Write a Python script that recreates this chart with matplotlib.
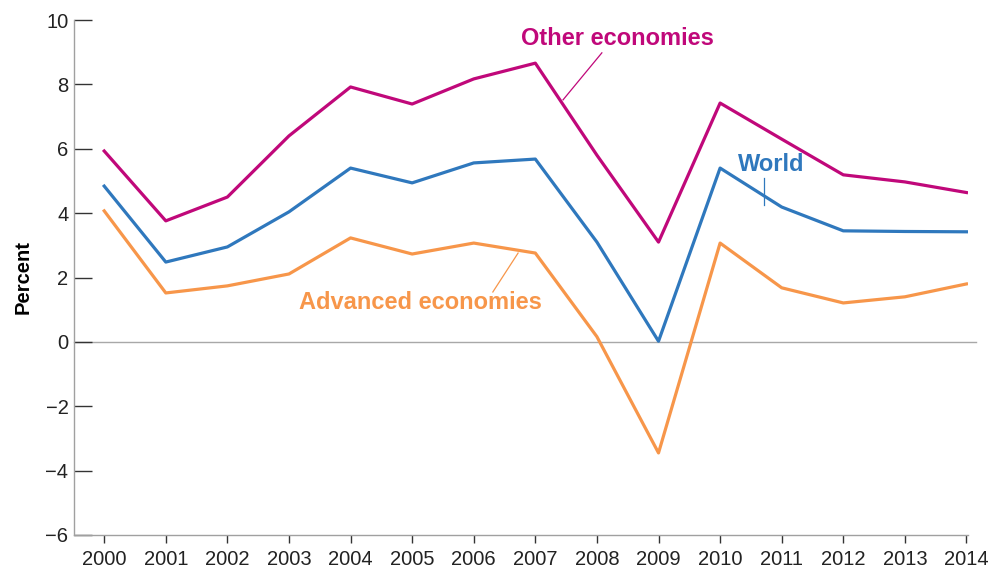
import matplotlib.pyplot as plt

plt.rcParams["font.family"] = ["Liberation Sans", "DejaVu Sans"]

years = list(range(2000, 2015))
other = [5.93, 3.76, 4.50, 6.40, 7.92, 7.39, 8.17, 8.66, 5.80, 3.10, 7.42, 6.30, 5.19, 4.97, 4.64]
world = [4.84, 2.48, 2.95, 4.04, 5.40, 4.94, 5.56, 5.68, 3.10, 0.02, 5.40, 4.19, 3.45, 3.43, 3.42]
advanced = [4.07, 1.52, 1.74, 2.11, 3.23, 2.73, 3.07, 2.76, 0.16, -3.45, 3.07, 1.68, 1.21, 1.40, 1.80]

colors = {"other": "#C0087A", "world": "#2F78BD", "advanced": "#F7964A"}

fig = plt.figure(figsize=(10.03, 5.72), dpi=100)
ax = fig.add_axes([0.0738, 0.0647, 0.891, 0.9003])

ax.plot([1999.51, 2014.15], [0, 0], color="#A8A8A8", linewidth=1.0, zorder=1, clip_on=False)
ax.plot(years, other, color=colors["other"], linewidth=2.3, zorder=3)
ax.plot(years, world, color=colors["world"], linewidth=2.3, zorder=3)
ax.plot(years, advanced, color=colors["advanced"], linewidth=2.3, zorder=3)

ax.set_xlim(1999.51, 2014.02)
ax.set_ylim(-6, 10)
ax.set_xticks(years)
ax.set_yticks(range(-6, 11, 2))
ax.set_yticklabels([str(v).replace("-", "\u2212") for v in range(-6, 11, 2)])

for side in ["top", "right"]:
    ax.spines[side].set_visible(False)
for side in ["left", "bottom"]:
    ax.spines[side].set_color("#A0A0A0")
    ax.spines[side].set_linewidth(1.0)

ax.tick_params(axis="y", direction="in", length=13, width=1.0, color="#333333",
               labelsize=14.5, pad=4, labelcolor="#222222")
ax.tick_params(axis="x", direction="out", length=6, width=1.0, color="#333333",
               labelsize=14.5, pad=5, labelcolor="#222222")
ax.set_ylabel("Percent", fontsize=14.5, fontweight="bold", labelpad=9)

# labels with leader lines
ax.text(2008.34, 9.44, "Other economies", color=colors["other"], fontsize=17,
        fontweight="bold", ha="center", va="center")
ax.plot([2008.08, 2007.45], [8.98, 7.52], color=colors["other"], linewidth=0.9)

ax.text(2010.83, 5.5, "World", color=colors["world"], fontsize=17,
        fontweight="bold", ha="center", va="center")
ax.plot([2010.71, 2010.71], [5.09, 4.26], color=colors["world"], linewidth=0.9)

ax.text(2005.13, 1.21, "Advanced economies", color=colors["advanced"], fontsize=17,
        fontweight="bold", ha="center", va="center")
ax.plot([2006.31, 2006.72], [1.55, 2.76], color=colors["advanced"], linewidth=0.9)

fig.savefig("out.png", dpi=100)
